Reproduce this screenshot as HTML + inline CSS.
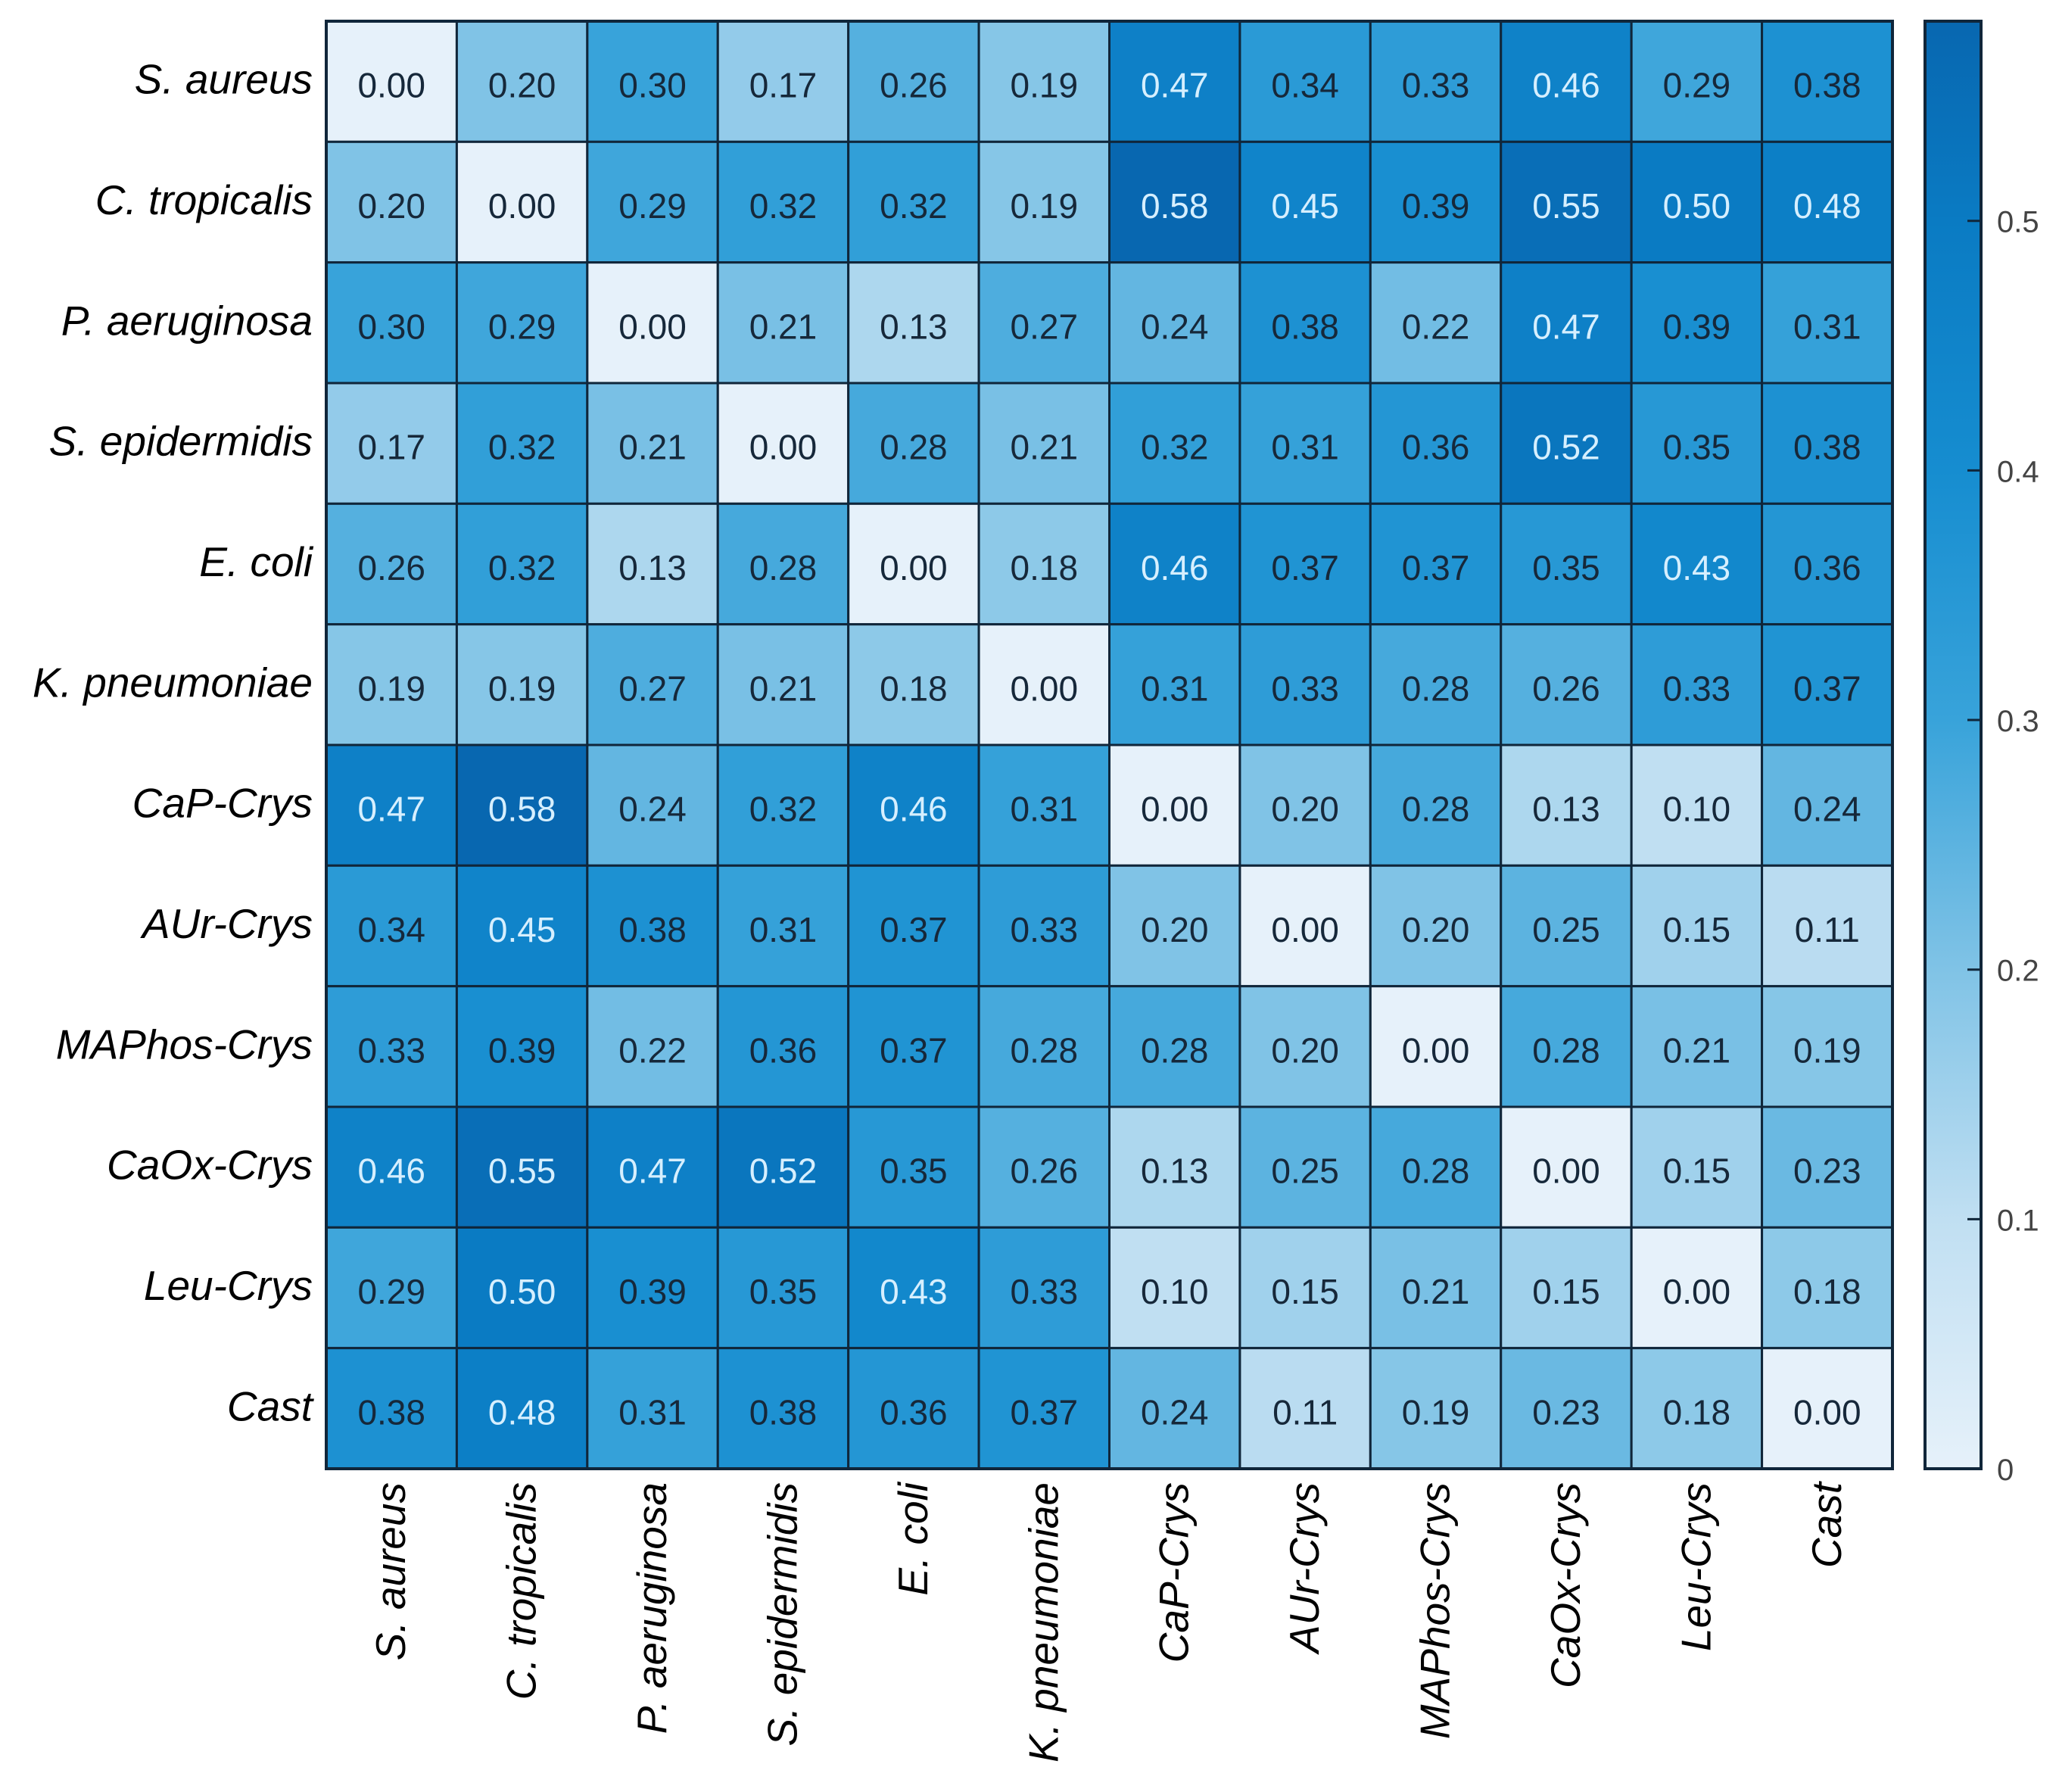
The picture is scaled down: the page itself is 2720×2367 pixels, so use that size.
<!DOCTYPE html>
<html><head><meta charset="utf-8">
<style>
html,body{margin:0;padding:0;background:#fff;}
svg{display:block;}
</style></head>
<body>
<svg id="chart" width="2720" height="2367" xmlns="http://www.w3.org/2000/svg">
<defs>
<linearGradient id="cbgrad" x1="0" y1="1" x2="0" y2="0">
<stop offset="0" stop-color="#e6f1fa"/>
<stop offset="0.1724" stop-color="#c0dff2"/>
<stop offset="0.3448" stop-color="#80c3e6"/>
<stop offset="0.5172" stop-color="#38a3da"/>
<stop offset="0.6897" stop-color="#168dd0"/>
<stop offset="0.8621" stop-color="#0a7bc3"/>
<stop offset="1" stop-color="#0867b0"/>
</linearGradient>
</defs>
<g id="cells"></g>
<g id="ylabels"></g>
<g id="xlabels"></g>
<g id="colorbar"></g>
</svg>
<script>
const categories = ["S. aureus","C. tropicalis","P. aeruginosa","S. epidermidis","E. coli","K. pneumoniae","CaP-Crys","AUr-Crys","MAPhos-Crys","CaOx-Crys","Leu-Crys","Cast"];
const values = [
[0.00,0.20,0.30,0.17,0.26,0.19,0.47,0.34,0.33,0.46,0.29,0.38],
[0.20,0.00,0.29,0.32,0.32,0.19,0.58,0.45,0.39,0.55,0.50,0.48],
[0.30,0.29,0.00,0.21,0.13,0.27,0.24,0.38,0.22,0.47,0.39,0.31],
[0.17,0.32,0.21,0.00,0.28,0.21,0.32,0.31,0.36,0.52,0.35,0.38],
[0.26,0.32,0.13,0.28,0.00,0.18,0.46,0.37,0.37,0.35,0.43,0.36],
[0.19,0.19,0.27,0.21,0.18,0.00,0.31,0.33,0.28,0.26,0.33,0.37],
[0.47,0.58,0.24,0.32,0.46,0.31,0.00,0.20,0.28,0.13,0.10,0.24],
[0.34,0.45,0.38,0.31,0.37,0.33,0.20,0.00,0.20,0.25,0.15,0.11],
[0.33,0.39,0.22,0.36,0.37,0.28,0.28,0.20,0.00,0.28,0.21,0.19],
[0.46,0.55,0.47,0.52,0.35,0.26,0.13,0.25,0.28,0.00,0.15,0.23],
[0.29,0.50,0.39,0.35,0.43,0.33,0.10,0.15,0.21,0.15,0.00,0.18],
[0.38,0.48,0.31,0.38,0.36,0.37,0.24,0.11,0.19,0.23,0.18,0.00]
];
const colorTicks = [0,0.1,0.2,0.3,0.4,0.5];
const colorTickLabels = ["0","0.1","0.2","0.3","0.4","0.5"];
const colorMax = 0.58;

const NS="http://www.w3.org/2000/svg";
const L=431,R=2500,T=28,B=1940;
const n=categories.length;
const cw=(R-L)/n, ch=(B-T)/n;
const xPos=i=>L+i*cw, yPos=i=>T+i*ch;
const stops=[[0,[230,241,250]],[0.1,[192,223,242]],[0.2,[128,195,230]],[0.3,[56,163,218]],[0.4,[22,141,208]],[0.5,[10,123,195]],[0.58,[8,103,176]]];
function color(v){
  v=Math.max(0,Math.min(colorMax,v));
  for(let k=1;k<stops.length;k++){
    if(v<=stops[k][0]){const a=stops[k-1],b=stops[k];const t=(v-a[0])/(b[0]-a[0]);
      const c=a[1].map((x,j)=>Math.round(x+(b[1][j]-x)*t));return `rgb(${c})`;}
  }
  return 'rgb(8,103,176)';
}
function mk(tag,attrs,parent){const e=document.createElementNS(NS,tag);for(const k in attrs)e.setAttribute(k,attrs[k]);parent.appendChild(e);return e;}
const cells=document.getElementById('cells');
values.forEach((row,i)=>row.forEach((v,j)=>{
  const r=mk('rect',{x:xPos(j),y:yPos(i),width:cw,height:ch,fill:color(v),stroke:'#10263a','stroke-width':3},cells);
  
  
  const t=mk('text',{x:xPos(j)+cw/2,y:yPos(i)+ch/2+21,'text-anchor':'middle','font-family':'Liberation Sans, sans-serif','font-size':46,fill:v>=0.43?'#d6efff':'#16283a'},cells);
  t.textContent=v.toFixed(2);
  
  
}));
mk('rect',{x:L,y:T,width:R-L,height:B-T,fill:'none',stroke:'#10263a','stroke-width':4},cells);
const yl=document.getElementById('ylabels'), xl=document.getElementById('xlabels');
categories.forEach((c,i)=>{
  const t=mk('text',{x:413,y:yPos(i)+ch/2+16,'text-anchor':'end','font-family':'Liberation Sans, sans-serif','font-style':'italic','font-size':55,fill:'#000'},yl);
  t.textContent=c;
  
  
  const cx=xPos(i)+cw/2+18;
  const u=mk('text',{x:cx,y:1958,'text-anchor':'end','font-family':'Liberation Sans, sans-serif','font-style':'italic','font-size':55,fill:'#000',transform:`rotate(-90 ${cx} 1958)`},xl);
  u.textContent=c;
  
  
});
const cb=document.getElementById('colorbar');
const CX=2543,CW=74;
const cy=v=>B-(v/colorMax)*(B-T);
const bar=mk('rect',{x:CX,y:T,width:CW,height:B-T,fill:'url(#cbgrad)',stroke:'#10263a','stroke-width':4},cb);


colorTicks.forEach((v,k)=>{
  mk('line',{x1:CX+CW-18,x2:CX+CW,y1:cy(v),y2:cy(v),stroke:'#10263a','stroke-width':3},cb);
  const t=mk('text',{x:2638,y:cy(v)+15,'font-family':'Liberation Sans, sans-serif','font-size':40,fill:'#444'},cb);
  t.textContent=colorTickLabels[k];
  
  
});
</script>
</body></html>
